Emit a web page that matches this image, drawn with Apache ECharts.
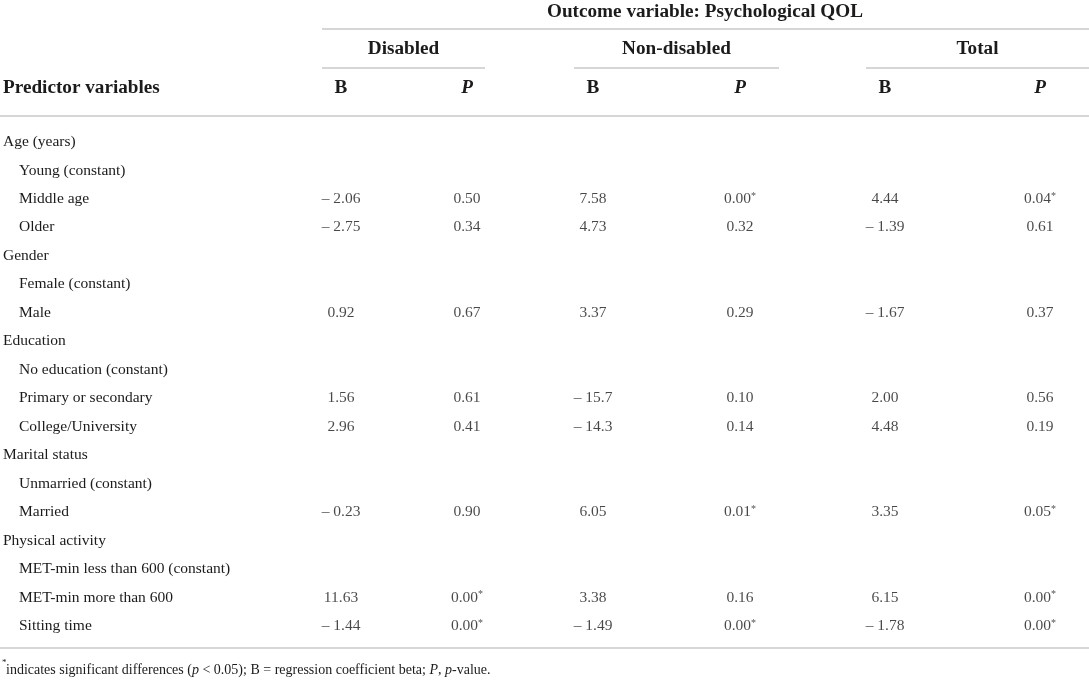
<!DOCTYPE html>
<html>
<head>
<meta charset="utf-8">
<script src="https://cdn.jsdelivr.net/npm/echarts@6.0.0/dist/echarts.min.js"></script>
<style>
html,body{margin:0;padding:0;background:#ffffff;}
#chart{width:1089px;height:682px;}
</style>
</head>
<body>
<div id="chart"></div>
<script>
// ---------- data ----------
const outcomeTitle = 'Outcome variable: Psychological QOL';
const groupNames = ['Disabled', 'Non-disabled', 'Total'];
const subColumns = ['B', 'P'];
const rowHeader = 'Predictor variables';
const rows = [
  'Age (years)', 'Young (constant)', 'Middle age', 'Older',
  'Gender', 'Female (constant)', 'Male',
  'Education', 'No education (constant)', 'Primary or secondary', 'College/University',
  'Marital status', 'Unmarried (constant)', 'Married',
  'Physical activity', 'MET-min less than 600 (constant)', 'MET-min more than 600', 'Sitting time'
];
const rowLevel = [0,1,1,1, 0,1,1, 0,1,1,1, 0,1,1, 0,1,1,1];
const disabledB    = [null,null,'-2.06','-2.75', null,null,'0.92', null,null,'1.56','2.96', null,null,'-0.23', null,null,'11.63','-1.44'];
const disabledP    = [null,null,'0.50','0.34',   null,null,'0.67', null,null,'0.61','0.41', null,null,'0.90',  null,null,'0.00*','0.00*'];
const nonDisabledB = [null,null,'7.58','4.73',   null,null,'3.37', null,null,'-15.7','-14.3', null,null,'6.05', null,null,'3.38','-1.49'];
const nonDisabledP = [null,null,'0.00*','0.32',  null,null,'0.29', null,null,'0.10','0.14', null,null,'0.01*', null,null,'0.16','0.00*'];
const totalB       = [null,null,'4.44','-1.39',  null,null,'-1.67', null,null,'2.00','4.48', null,null,'3.35', null,null,'6.15','-1.78'];
const totalP       = [null,null,'0.04*','0.61',  null,null,'0.37', null,null,'0.56','0.19', null,null,'0.05*', null,null,'0.00*','0.00*'];

// ---------- chart ----------
const FONT = 'Liberation Serif';
const INK = '#1c1a1b';
const RULE = '#c9c9c9';
const BODY = 15.5;
const HEAD = 19.2;

const groupCols = [[disabledB, disabledP], [nonDisabledB, nonDisabledP], [totalB, totalP]];
const gridLayout = [
  {left: 341, width: 126},
  {left: 593, width: 147},
  {left: 885, width: 155}
];
const gridTop = 142, gridBottom = 56;

function fmt(v) {
  let t = v.charAt(0) === '-' ? '\u2013 ' + v.slice(1) : v;
  return t.replace('*', '{s|*}');
}

const grids = gridLayout.map(g => ({
  left: g.left, width: g.width, top: gridTop, bottom: gridBottom,
  containLabel: false, outerBoundsMode: 'none', show: false
}));

const xAxes = grids.map((g, i) => ({
  type: 'category', gridIndex: i, data: subColumns, position: 'top',
  boundaryGap: false,
  axisLine: {show: false}, axisTick: {show: false}, splitLine: {show: false},
  axisLabel: {
    interval: 0, margin: gridTop - 88, verticalAlign: 'middle',
    showMinLabel: true, showMaxLabel: true,
    formatter: v => v === 'B' ? '{b|B}' : '{p|P}',
    rich: {
      b: {fontFamily: FONT, fontWeight: 'bold', fontSize: HEAD, color: INK},
      p: {fontFamily: FONT, fontWeight: 'bold', fontStyle: 'italic', fontSize: HEAD, color: INK}
    }
  }
}));

const yAxes = grids.map((g, i) => ({
  type: 'category', gridIndex: i, data: rows, inverse: true, boundaryGap: false,
  axisLine: {show: false}, axisTick: {show: false}, splitLine: {show: false},
  axisLabel: i === 0 ? {
    show: true, interval: 0, align: 'left', margin: gridLayout[0].left - 3,
    showMinLabel: true, showMaxLabel: true,
    formatter: (v, idx) => rowLevel[idx] ? '{i|' + v + '}' : '{h|' + v + '}',
    rich: {
      h: {fontFamily: FONT, fontSize: BODY, color: INK},
      i: {fontFamily: FONT, fontSize: BODY, color: INK, padding: [0, 0, 0, 16]}
    }
  } : {show: false}
}));

const series = groupCols.map((cols, gi) => {
  const data = [];
  cols.forEach((arr, ci) => {
    arr.forEach((v, ri) => {
      if (v !== null) data.push({value: [ci, ri, fmt(v)]});
    });
  });
  return {
    type: 'scatter', xAxisIndex: gi, yAxisIndex: gi, data,
    symbolSize: 1, itemStyle: {color: 'rgba(0,0,0,0)'},
    silent: true, animation: false,
    label: {
      show: true, position: 'inside', align: 'center', verticalAlign: 'middle',
      formatter: p => p.value[2],
      fontFamily: FONT, fontSize: BODY, color: INK,
      rich: {
        s: {fontFamily: FONT, fontSize: 10, color: INK, verticalAlign: 'top', padding: [0, 0, 4, 0]}
      }
    }
  };
});

function hline(x1, x2, y) {
  return {type: 'line', shape: {x1, y1: y, x2, y2: y}, style: {stroke: RULE, lineWidth: 1.6}, silent: true};
}
function htext(x, y, text, extra) {
  return {type: 'text', x, y, silent: true,
    style: Object.assign({text, fill: INK, fontFamily: FONT, fontSize: HEAD, fontWeight: 'bold',
      align: 'center', verticalAlign: 'middle'}, extra || {})};
}

const groupSpans = [[322, 485], [574, 779], [866, 1089]];

const graphic = [
  htext(705, 12, outcomeTitle),
  hline(322, 1089, 29),
  ...groupNames.map((n, i) => htext((groupSpans[i][0] + groupSpans[i][1]) / 2, 49, n)),
  ...groupSpans.map(s => hline(s[0], s[1], 68)),
  htext(3, 88, rowHeader, {align: 'left'}),
  hline(0, 1089, 116),
  hline(0, 1089, 648),
  {type: 'text', x: 2, y: 663, silent: true,
    style: {text: '*', fill: INK, fontFamily: FONT, fontSize: 9, align: 'left', verticalAlign: 'middle'}},
  {type: 'text', x: 6, y: 670, silent: true,
    style: {
      text: 'indicates significant differences ({it|p} < 0.05); B = regression coefficient beta; {it|P}, {it|p}-value.',
      fill: INK, fontFamily: FONT, fontSize: 14, align: 'left', verticalAlign: 'middle',
      rich: {it: {fontFamily: FONT, fontSize: 14, fontStyle: 'italic', fill: INK}}
    }}
];

const chart = echarts.init(document.getElementById('chart'), null, {renderer: 'canvas'});
chart.setOption({
  backgroundColor: '#ffffff',
  animation: false,
  grid: grids,
  xAxis: xAxes,
  yAxis: yAxes,
  series,
  graphic
});
</script>
</body>
</html>
